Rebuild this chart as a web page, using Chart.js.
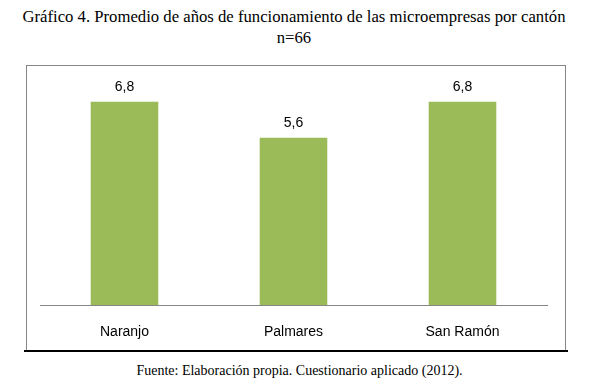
<!DOCTYPE html>
<html>
<head>
    <title>Promedio de años de funcionamiento</title>
    <script src="https://cdn.jsdelivr.net/npm/chart.js"></script>
    <style>
        body { margin: 0; background: #fff; width: 599px; height: 392px; position: relative; overflow: hidden; }
        .title {
            position: absolute; left: 0; top: 6px; width: 588px;
            text-align: center; font-family: "Liberation Serif", "Times New Roman", serif;
            font-size: 16.7px; line-height: 21px; color: #000;
        }
        .frame {
            position: absolute; left: 26px; top: 65px; width: 538px; height: 284px;
            border: 1px solid #868686;
        }
        .rule {
            position: absolute; left: 24px; top: 350px; width: 544px; height: 2px; background: #000;
        }
        .source {
            position: absolute; left: 0; top: 363px; width: 599px; text-align: center;
            font-family: "Liberation Serif", "Times New Roman", serif; font-size: 14px; color: #000;
        }
        canvas { position: absolute; left: 0; top: 0; }
    </style>
</head>
<body>
    <div class="title">Gráfico 4. Promedio de años de funcionamiento de las microempresas por cantón<br>n=66</div>
    <div class="frame"><canvas id="chart" width="538" height="284"></canvas></div>
    <div class="rule"></div>
    <div class="source">Fuente: Elaboración propia. Cuestionario aplicado (2012).</div>
    <script>
        const cantones = ['Naranjo', 'Palmares', 'San Ramón'];
        const promedioAnios = [6.8, 5.6, 6.8];

        // etiquetas de valor encima de cada barra, con coma decimal
        const valueLabels = {
            id: 'valueLabels',
            afterDatasetsDraw(chart) {
                const ctx = chart.ctx;
                const meta = chart.getDatasetMeta(0);
                ctx.save();
                ctx.font = '14px "Liberation Sans", Arial, sans-serif';
                ctx.fillStyle = '#000';
                ctx.textAlign = 'center';
                ctx.textBaseline = 'middle';
                meta.data.forEach((bar, i) => {
                    const txt = promedioAnios[i].toFixed(1).replace('.', ',');
                    ctx.fillText(txt, bar.x, bar.y - 15);
                });
                ctx.restore();
            }
        };

        new Chart(document.getElementById('chart'), {
            type: 'bar',
            data: {
                labels: cantones,
                datasets: [{
                    data: promedioAnios,
                    backgroundColor: '#9BBB59',
                    borderWidth: 0,
                    barPercentage: 0.4,
                    categoryPercentage: 1
                }]
            },
            options: {
                responsive: false,
                animation: false,
                devicePixelRatio: 1,
                layout: { padding: { left: 13, right: 18, top: 0, bottom: 0 } },
                plugins: {
                    legend: { display: false },
                    tooltip: { enabled: false }
                },
                scales: {
                    x: {
                        grid: { display: false },
                        border: { display: true, color: '#868686', width: 1 },
                        ticks: {
                            color: '#000',
                            padding: 11,
                            font: { family: '"Liberation Sans", Arial, sans-serif', size: 14 }
                        },
                        afterFit(scale) { scale.height = 45; }
                    },
                    y: {
                        display: false,
                        min: 0,
                        max: 8
                    }
                }
            },
            plugins: [valueLabels]
        });
    </script>
</body>
</html>
